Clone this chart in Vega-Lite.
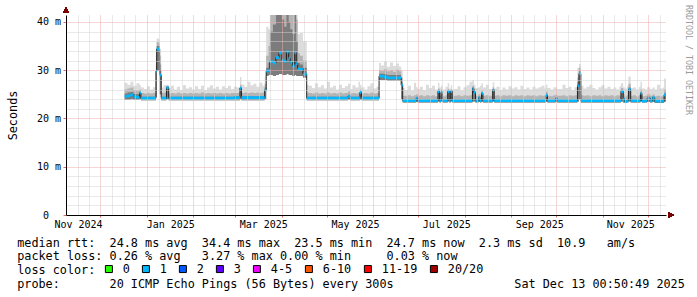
{
"$schema": "https://vega.github.io/schema/vega-lite/v6.json",
"width": 600, "height": 200,
"autosize": {"type": "none"},
"padding": {"left": 66, "top": 15, "right": 31, "bottom": 82},
"background": "white",
"config": {"view": {"stroke": null}},
"title": {"text": "RRDTOOL / TOBI OETIKER", "orient": "right", "anchor": "start", "frame": "group", "font": "DejaVu Sans Mono", "fontSize": 8.3, "fontWeight": "normal", "color": "#9a9a9a", "offset": 0, "dx": -10},
"data": {"values": [
{"d":"2024-12-17T00:00","m":24.6,"lo":23.9,"dk":25.2,"mid":26.0,"hi":27.4},
{"d":"2024-12-19T00:00","m":24.7,"lo":23.9,"dk":25.4,"mid":26.2,"hi":27.0},
{"d":"2024-12-21T00:00","m":24.9,"lo":24.0,"dk":25.5,"mid":26.4,"hi":27.6},
{"d":"2024-12-23T00:00","m":24.5,"lo":23.9,"dk":25.1,"mid":25.9,"hi":26.8},
{"d":"2024-12-25T00:00","m":24.4,"lo":23.9,"dk":25.0,"mid":25.8,"hi":27.3},
{"d":"2024-12-27T00:00","m":25.3,"lo":24.0,"dk":25.5,"mid":26.0,"hi":26.9},
{"d":"2024-12-28T00:00","m":24.2,"lo":23.8,"dk":24.5,"mid":25.3,"hi":26.4},
{"d":"2024-12-30T00:00","m":24.2,"lo":23.8,"dk":24.5,"mid":25.2,"hi":26.1},
{"d":"2025-01-01T00:00","m":24.2,"lo":23.8,"dk":24.5,"mid":25.3,"hi":26.7},
{"d":"2025-01-03T00:00","m":24.2,"lo":23.8,"dk":24.5,"mid":25.2,"hi":26.0},
{"d":"2025-01-05T00:00","m":24.2,"lo":23.8,"dk":24.5,"mid":25.3,"hi":26.5},
{"d":"2025-01-07T00:00","m":29.8,"lo":24.5,"dk":31.0,"mid":33.0,"hi":34.5},
{"d":"2025-01-07T12:00","m":34.4,"lo":30.0,"dk":35.0,"mid":35.8,"hi":36.6},
{"d":"2025-01-09T00:00","m":34.4,"lo":30.0,"dk":35.0,"mid":35.6,"hi":36.4},
{"d":"2025-01-09T12:00","m":29.0,"lo":25.0,"dk":30.0,"mid":31.2,"hi":33.0},
{"d":"2025-01-10T12:00","m":24.2,"lo":23.8,"dk":24.5,"mid":25.3,"hi":26.4},
{"d":"2025-01-12T00:00","m":24.2,"lo":23.8,"dk":24.5,"mid":25.4,"hi":26.9},
{"d":"2025-01-14T00:00","m":26.4,"lo":24.0,"dk":26.6,"mid":26.8,"hi":27.0},
{"d":"2025-01-15T12:00","m":24.2,"lo":23.8,"dk":24.5,"mid":25.2,"hi":26.3},
{"d":"2025-01-17T00:00","m":24.2,"lo":23.8,"dk":24.5,"mid":25.3,"hi":26.8},
{"d":"2025-01-19T00:00","m":24.2,"lo":23.8,"dk":24.5,"mid":25.2,"hi":26.0},
{"d":"2025-01-21T00:00","m":24.2,"lo":23.8,"dk":24.5,"mid":25.4,"hi":26.6},
{"d":"2025-01-23T00:00","m":24.2,"lo":23.8,"dk":24.5,"mid":25.2,"hi":25.9},
{"d":"2025-01-25T00:00","m":24.2,"lo":23.8,"dk":24.5,"mid":25.3,"hi":26.9},
{"d":"2025-01-27T00:00","m":24.2,"lo":23.8,"dk":24.5,"mid":25.2,"hi":26.2},
{"d":"2025-01-29T00:00","m":24.2,"lo":23.8,"dk":24.5,"mid":25.3,"hi":26.5},
{"d":"2025-01-31T00:00","m":24.2,"lo":23.8,"dk":24.5,"mid":25.2,"hi":26.0},
{"d":"2025-02-02T00:00","m":24.2,"lo":23.8,"dk":24.5,"mid":25.3,"hi":26.7},
{"d":"2025-02-04T00:00","m":24.2,"lo":23.8,"dk":24.5,"mid":25.2,"hi":26.1},
{"d":"2025-02-06T00:00","m":24.2,"lo":23.8,"dk":24.5,"mid":25.4,"hi":26.8},
{"d":"2025-02-08T00:00","m":24.2,"lo":23.8,"dk":24.5,"mid":25.2,"hi":25.9},
{"d":"2025-02-10T00:00","m":24.2,"lo":23.8,"dk":24.5,"mid":25.3,"hi":26.4},
{"d":"2025-02-12T00:00","m":24.2,"lo":23.8,"dk":24.5,"mid":25.2,"hi":26.9},
{"d":"2025-02-14T00:00","m":24.2,"lo":23.8,"dk":24.5,"mid":25.3,"hi":26.2},
{"d":"2025-02-16T00:00","m":24.2,"lo":23.8,"dk":24.5,"mid":25.2,"hi":26.6},
{"d":"2025-02-18T00:00","m":24.2,"lo":23.8,"dk":24.5,"mid":25.3,"hi":26.0},
{"d":"2025-02-20T00:00","m":24.2,"lo":23.8,"dk":24.5,"mid":25.2,"hi":26.7},
{"d":"2025-02-22T00:00","m":24.2,"lo":23.8,"dk":24.5,"mid":25.3,"hi":26.3},
{"d":"2025-02-24T00:00","m":24.2,"lo":23.8,"dk":24.5,"mid":25.2,"hi":26.8},
{"d":"2025-02-26T00:00","m":24.2,"lo":23.8,"dk":24.5,"mid":25.3,"hi":26.1},
{"d":"2025-02-28T00:00","m":24.3,"lo":23.8,"dk":24.6,"mid":25.3,"hi":26.6},
{"d":"2025-03-02T00:00","m":24.3,"lo":23.8,"dk":24.6,"mid":25.3,"hi":26.4},
{"d":"2025-03-04T00:00","m":26.3,"lo":24.0,"dk":26.5,"mid":27.0,"hi":28.6},
{"d":"2025-03-05T00:00","m":24.3,"lo":23.8,"dk":24.6,"mid":25.3,"hi":27.0},
{"d":"2025-03-07T00:00","m":24.3,"lo":23.8,"dk":24.6,"mid":25.4,"hi":26.6},
{"d":"2025-03-09T00:00","m":24.3,"lo":23.8,"dk":24.6,"mid":25.3,"hi":27.6},
{"d":"2025-03-11T00:00","m":24.3,"lo":23.8,"dk":24.6,"mid":25.4,"hi":26.9},
{"d":"2025-03-13T00:00","m":24.3,"lo":23.8,"dk":24.6,"mid":25.3,"hi":27.2},
{"d":"2025-03-15T00:00","m":24.3,"lo":23.8,"dk":24.6,"mid":25.4,"hi":26.6},
{"d":"2025-03-17T00:00","m":24.3,"lo":23.8,"dk":24.6,"mid":25.3,"hi":27.4},
{"d":"2025-03-19T00:00","m":24.3,"lo":23.8,"dk":24.6,"mid":25.4,"hi":26.8},
{"d":"2025-03-20T12:00","m":25.9,"lo":24.0,"dk":26.4,"mid":27.2,"hi":28.7},
{"d":"2025-03-21T12:00","m":29.8,"lo":28.8,"dk":30.5,"mid":33.0,"hi":39.0},
{"d":"2025-03-23T00:00","m":30.0,"lo":29.0,"dk":31.5,"mid":35.0,"hi":38.5},
{"d":"2025-03-24T00:00","m":31.8,"lo":29.0,"dk":38.0,"mid":41.45,"hi":41.45},
{"d":"2025-03-26T00:00","m":31.5,"lo":28.8,"dk":39.5,"mid":41.45,"hi":41.45},
{"d":"2025-03-28T00:00","m":32.6,"lo":29.0,"dk":41.45,"mid":41.45,"hi":41.45},
{"d":"2025-03-30T00:00","m":33.6,"lo":29.2,"dk":41.45,"mid":41.45,"hi":41.45},
{"d":"2025-04-01T00:00","m":32.1,"lo":29.0,"dk":40.5,"mid":41.45,"hi":41.45},
{"d":"2025-04-02T12:00","m":31.9,"lo":29.0,"dk":39.0,"mid":41.45,"hi":41.45},
{"d":"2025-04-04T00:00","m":33.8,"lo":29.2,"dk":41.45,"mid":41.45,"hi":41.45},
{"d":"2025-04-05T12:00","m":32.5,"lo":29.0,"dk":40.0,"mid":41.45,"hi":41.45},
{"d":"2025-04-06T12:00","m":31.7,"lo":29.0,"dk":38.5,"mid":41.45,"hi":41.45},
{"d":"2025-04-08T00:00","m":30.9,"lo":28.8,"dk":37.5,"mid":41.45,"hi":41.45},
{"d":"2025-04-09T12:00","m":33.6,"lo":29.0,"dk":41.45,"mid":41.45,"hi":41.45},
{"d":"2025-04-10T12:00","m":31.4,"lo":28.8,"dk":36.0,"mid":40.5,"hi":41.45},
{"d":"2025-04-11T12:00","m":30.3,"lo":28.8,"dk":31.5,"mid":33.5,"hi":37.5},
{"d":"2025-04-13T00:00","m":30.2,"lo":28.8,"dk":31.2,"mid":33.0,"hi":37.7},
{"d":"2025-04-15T00:00","m":29.2,"lo":28.5,"dk":30.5,"mid":32.0,"hi":36.0},
{"d":"2025-04-17T12:00","m":24.2,"lo":23.8,"dk":24.5,"mid":25.4,"hi":27.0},
{"d":"2025-04-19T00:00","m":24.2,"lo":23.8,"dk":24.5,"mid":25.3,"hi":26.8},
{"d":"2025-04-21T00:00","m":24.2,"lo":23.8,"dk":24.5,"mid":25.2,"hi":26.3},
{"d":"2025-04-23T00:00","m":24.2,"lo":23.8,"dk":24.5,"mid":25.4,"hi":27.3},
{"d":"2025-04-25T00:00","m":24.2,"lo":23.8,"dk":24.5,"mid":25.2,"hi":26.5},
{"d":"2025-04-27T00:00","m":24.2,"lo":23.8,"dk":24.5,"mid":25.3,"hi":26.9},
{"d":"2025-04-29T00:00","m":24.2,"lo":23.8,"dk":24.5,"mid":25.2,"hi":26.2},
{"d":"2025-05-01T00:00","m":24.2,"lo":23.8,"dk":24.5,"mid":25.4,"hi":27.6},
{"d":"2025-05-03T00:00","m":24.2,"lo":23.8,"dk":24.5,"mid":25.2,"hi":26.4},
{"d":"2025-05-05T00:00","m":24.2,"lo":23.8,"dk":24.5,"mid":25.3,"hi":26.8},
{"d":"2025-05-07T00:00","m":24.2,"lo":23.8,"dk":24.5,"mid":25.2,"hi":26.0},
{"d":"2025-05-09T00:00","m":24.2,"lo":23.8,"dk":24.5,"mid":25.4,"hi":27.0},
{"d":"2025-05-11T00:00","m":24.2,"lo":23.8,"dk":24.5,"mid":25.2,"hi":26.3},
{"d":"2025-05-13T00:00","m":24.2,"lo":23.8,"dk":24.5,"mid":25.3,"hi":26.7},
{"d":"2025-05-15T00:00","m":24.6,"lo":23.9,"dk":24.9,"mid":25.6,"hi":27.2},
{"d":"2025-05-16T12:00","m":24.2,"lo":23.8,"dk":24.5,"mid":25.2,"hi":26.1},
{"d":"2025-05-18T00:00","m":24.2,"lo":23.8,"dk":24.5,"mid":25.3,"hi":26.9},
{"d":"2025-05-20T00:00","m":24.2,"lo":23.8,"dk":24.5,"mid":25.2,"hi":26.4},
{"d":"2025-05-22T00:00","m":24.2,"lo":23.8,"dk":24.5,"mid":25.4,"hi":27.6},
{"d":"2025-05-23T00:00","m":25.4,"lo":23.9,"dk":25.6,"mid":26.0,"hi":27.0},
{"d":"2025-05-24T00:00","m":24.2,"lo":23.8,"dk":24.5,"mid":25.2,"hi":26.5},
{"d":"2025-05-26T00:00","m":24.2,"lo":23.8,"dk":24.5,"mid":25.3,"hi":26.0},
{"d":"2025-05-28T00:00","m":24.2,"lo":23.8,"dk":24.5,"mid":25.2,"hi":26.7},
{"d":"2025-05-30T00:00","m":24.2,"lo":23.8,"dk":24.5,"mid":25.4,"hi":27.3},
{"d":"2025-06-01T00:00","m":24.2,"lo":23.8,"dk":24.5,"mid":25.2,"hi":26.2},
{"d":"2025-06-03T00:00","m":24.2,"lo":23.8,"dk":24.5,"mid":25.3,"hi":26.6},
{"d":"2025-06-04T18:00","m":28.8,"lo":28.0,"dk":29.3,"mid":30.0,"hi":31.5},
{"d":"2025-06-06T00:00","m":28.8,"lo":28.0,"dk":29.3,"mid":29.9,"hi":31.0},
{"d":"2025-06-08T00:00","m":28.6,"lo":28.0,"dk":29.2,"mid":30.2,"hi":31.8},
{"d":"2025-06-10T00:00","m":28.4,"lo":27.9,"dk":29.0,"mid":29.8,"hi":30.7},
{"d":"2025-06-12T00:00","m":28.4,"lo":27.9,"dk":29.0,"mid":30.0,"hi":31.6},
{"d":"2025-06-14T00:00","m":28.4,"lo":27.9,"dk":29.0,"mid":29.7,"hi":30.9},
{"d":"2025-06-16T00:00","m":28.4,"lo":27.9,"dk":29.0,"mid":30.1,"hi":31.4},
{"d":"2025-06-18T00:00","m":28.4,"lo":27.9,"dk":29.0,"mid":29.8,"hi":30.8},
{"d":"2025-06-19T12:00","m":26.9,"lo":24.0,"dk":27.5,"mid":28.5,"hi":30.0},
{"d":"2025-06-20T12:00","m":23.7,"lo":23.3,"dk":24.0,"mid":24.7,"hi":26.3},
{"d":"2025-06-22T00:00","m":23.7,"lo":23.3,"dk":24.0,"mid":24.7,"hi":25.9},
{"d":"2025-06-24T00:00","m":23.7,"lo":23.3,"dk":24.0,"mid":24.8,"hi":26.8},
{"d":"2025-06-26T00:00","m":23.7,"lo":23.3,"dk":24.0,"mid":24.6,"hi":25.8},
{"d":"2025-06-28T00:00","m":23.7,"lo":23.3,"dk":24.0,"mid":24.8,"hi":27.4},
{"d":"2025-06-29T12:00","m":24.2,"lo":23.4,"dk":24.4,"mid":25.0,"hi":26.5},
{"d":"2025-06-30T12:00","m":23.7,"lo":23.3,"dk":24.0,"mid":24.7,"hi":26.1},
{"d":"2025-07-02T00:00","m":23.7,"lo":23.3,"dk":24.0,"mid":24.8,"hi":26.6},
{"d":"2025-07-04T00:00","m":23.7,"lo":23.3,"dk":24.0,"mid":24.6,"hi":25.9},
{"d":"2025-07-06T00:00","m":23.7,"lo":23.3,"dk":24.0,"mid":24.8,"hi":27.0},
{"d":"2025-07-08T00:00","m":23.7,"lo":23.3,"dk":24.0,"mid":24.7,"hi":26.3},
{"d":"2025-07-10T00:00","m":23.7,"lo":23.3,"dk":24.0,"mid":24.8,"hi":26.8},
{"d":"2025-07-12T00:00","m":23.7,"lo":23.3,"dk":24.0,"mid":24.6,"hi":26.0},
{"d":"2025-07-14T00:00","m":25.6,"lo":23.5,"dk":25.9,"mid":26.2,"hi":27.4},
{"d":"2025-07-15T00:00","m":23.7,"lo":23.3,"dk":24.0,"mid":24.7,"hi":26.4},
{"d":"2025-07-16T00:00","m":25.4,"lo":23.5,"dk":25.6,"mid":26.0,"hi":26.8},
{"d":"2025-07-17T00:00","m":23.7,"lo":23.3,"dk":24.0,"mid":24.6,"hi":26.0},
{"d":"2025-07-19T00:00","m":23.7,"lo":23.3,"dk":24.0,"mid":24.8,"hi":26.6},
{"d":"2025-07-20T12:00","m":25.6,"lo":23.5,"dk":25.8,"mid":26.1,"hi":27.3},
{"d":"2025-07-21T12:00","m":23.7,"lo":23.3,"dk":24.0,"mid":24.7,"hi":26.2},
{"d":"2025-07-22T12:00","m":25.6,"lo":23.5,"dk":25.8,"mid":26.0,"hi":26.9},
{"d":"2025-07-23T12:00","m":23.7,"lo":23.3,"dk":24.0,"mid":24.7,"hi":26.0},
{"d":"2025-07-25T00:00","m":23.7,"lo":23.3,"dk":24.0,"mid":24.7,"hi":26.1},
{"d":"2025-07-27T00:00","m":23.7,"lo":23.3,"dk":24.0,"mid":24.8,"hi":26.7},
{"d":"2025-07-29T00:00","m":23.7,"lo":23.3,"dk":24.0,"mid":24.6,"hi":25.8},
{"d":"2025-07-31T00:00","m":23.7,"lo":23.3,"dk":24.0,"mid":24.8,"hi":26.5},
{"d":"2025-08-02T00:00","m":23.7,"lo":23.3,"dk":24.0,"mid":24.7,"hi":26.9},
{"d":"2025-08-04T00:00","m":23.7,"lo":23.3,"dk":24.0,"mid":24.8,"hi":27.6},
{"d":"2025-08-06T00:00","m":26.2,"lo":23.5,"dk":26.4,"mid":26.8,"hi":28.0},
{"d":"2025-08-07T00:00","m":25.4,"lo":23.5,"dk":25.6,"mid":26.0,"hi":27.0},
{"d":"2025-08-08T00:00","m":23.7,"lo":23.3,"dk":24.0,"mid":24.7,"hi":26.3},
{"d":"2025-08-10T00:00","m":24.3,"lo":23.4,"dk":24.5,"mid":25.0,"hi":26.5},
{"d":"2025-08-11T00:00","m":23.7,"lo":23.3,"dk":24.0,"mid":24.7,"hi":26.8},
{"d":"2025-08-12T00:00","m":25.2,"lo":23.4,"dk":25.4,"mid":25.8,"hi":27.3},
{"d":"2025-08-13T00:00","m":23.7,"lo":23.3,"dk":24.0,"mid":24.7,"hi":26.4},
{"d":"2025-08-15T00:00","m":23.7,"lo":23.3,"dk":24.0,"mid":24.8,"hi":27.0},
{"d":"2025-08-17T00:00","m":23.7,"lo":23.3,"dk":24.0,"mid":24.7,"hi":26.1},
{"d":"2025-08-19T12:00","m":25.9,"lo":23.5,"dk":26.1,"mid":26.5,"hi":27.5},
{"d":"2025-08-20T12:00","m":23.7,"lo":23.3,"dk":24.0,"mid":24.7,"hi":26.2},
{"d":"2025-08-22T00:00","m":23.7,"lo":23.3,"dk":24.0,"mid":24.8,"hi":26.6},
{"d":"2025-08-24T00:00","m":23.7,"lo":23.3,"dk":24.0,"mid":24.6,"hi":25.9},
{"d":"2025-08-26T00:00","m":23.7,"lo":23.3,"dk":24.0,"mid":24.8,"hi":26.4},
{"d":"2025-08-28T00:00","m":23.7,"lo":23.3,"dk":24.0,"mid":24.7,"hi":26.0},
{"d":"2025-08-30T00:00","m":23.7,"lo":23.3,"dk":24.0,"mid":24.8,"hi":26.7},
{"d":"2025-09-01T00:00","m":23.7,"lo":23.3,"dk":24.0,"mid":24.6,"hi":26.2},
{"d":"2025-09-03T00:00","m":23.7,"lo":23.3,"dk":24.0,"mid":24.8,"hi":26.5},
{"d":"2025-09-05T00:00","m":23.7,"lo":23.3,"dk":24.0,"mid":24.7,"hi":26.0},
{"d":"2025-09-07T00:00","m":23.7,"lo":23.3,"dk":24.0,"mid":24.8,"hi":26.8},
{"d":"2025-09-09T00:00","m":23.7,"lo":23.3,"dk":24.0,"mid":24.6,"hi":26.1},
{"d":"2025-09-11T00:00","m":23.7,"lo":23.3,"dk":24.0,"mid":24.8,"hi":26.4},
{"d":"2025-09-13T00:00","m":23.7,"lo":23.3,"dk":24.0,"mid":24.7,"hi":26.0},
{"d":"2025-09-15T00:00","m":23.7,"lo":23.3,"dk":24.0,"mid":24.8,"hi":26.6},
{"d":"2025-09-17T00:00","m":23.7,"lo":23.3,"dk":24.0,"mid":24.6,"hi":26.2},
{"d":"2025-09-19T00:00","m":23.7,"lo":23.3,"dk":24.0,"mid":24.8,"hi":26.5},
{"d":"2025-09-21T00:00","m":23.7,"lo":23.3,"dk":24.0,"mid":24.7,"hi":26.8},
{"d":"2025-09-23T00:00","m":23.7,"lo":23.3,"dk":24.0,"mid":24.8,"hi":26.2},
{"d":"2025-09-24T00:00","m":24.8,"lo":23.4,"dk":25.2,"mid":25.6,"hi":27.0},
{"d":"2025-09-25T00:00","m":23.7,"lo":23.3,"dk":24.0,"mid":24.7,"hi":26.3},
{"d":"2025-09-27T00:00","m":23.7,"lo":23.3,"dk":24.0,"mid":24.6,"hi":26.0},
{"d":"2025-09-29T00:00","m":23.7,"lo":23.3,"dk":24.0,"mid":24.8,"hi":26.5},
{"d":"2025-09-30T12:00","m":24.1,"lo":23.4,"dk":24.3,"mid":24.9,"hi":26.4},
{"d":"2025-10-01T12:00","m":23.7,"lo":23.3,"dk":24.0,"mid":24.7,"hi":26.1},
{"d":"2025-10-03T00:00","m":23.7,"lo":23.3,"dk":24.0,"mid":24.7,"hi":26.1},
{"d":"2025-10-05T00:00","m":23.7,"lo":23.3,"dk":24.0,"mid":24.8,"hi":27.0},
{"d":"2025-10-07T00:00","m":23.7,"lo":23.3,"dk":24.0,"mid":24.6,"hi":26.3},
{"d":"2025-10-09T00:00","m":23.7,"lo":23.3,"dk":24.0,"mid":24.8,"hi":26.6},
{"d":"2025-10-11T00:00","m":23.7,"lo":23.3,"dk":24.0,"mid":24.7,"hi":25.9},
{"d":"2025-10-13T00:00","m":23.7,"lo":23.3,"dk":24.0,"mid":24.8,"hi":26.5},
{"d":"2025-10-15T00:00","m":26.8,"lo":23.5,"dk":27.5,"mid":28.5,"hi":30.5},
{"d":"2025-10-16T00:00","m":29.3,"lo":24.0,"dk":29.8,"mid":30.5,"hi":31.3},
{"d":"2025-10-17T06:00","m":23.7,"lo":23.3,"dk":24.0,"mid":24.8,"hi":26.8},
{"d":"2025-10-19T00:00","m":23.7,"lo":23.3,"dk":24.0,"mid":24.7,"hi":26.2},
{"d":"2025-10-21T00:00","m":23.7,"lo":23.3,"dk":24.0,"mid":24.8,"hi":26.6},
{"d":"2025-10-23T00:00","m":23.7,"lo":23.3,"dk":24.0,"mid":24.6,"hi":27.0},
{"d":"2025-10-25T00:00","m":23.7,"lo":23.3,"dk":24.0,"mid":24.8,"hi":26.3},
{"d":"2025-10-27T00:00","m":23.7,"lo":23.3,"dk":24.0,"mid":24.7,"hi":26.0},
{"d":"2025-10-29T00:00","m":23.7,"lo":23.3,"dk":24.0,"mid":24.8,"hi":26.5},
{"d":"2025-10-31T00:00","m":23.7,"lo":23.3,"dk":24.0,"mid":24.6,"hi":26.9},
{"d":"2025-11-02T00:00","m":23.7,"lo":23.3,"dk":24.0,"mid":24.8,"hi":26.2},
{"d":"2025-11-04T00:00","m":23.7,"lo":23.3,"dk":24.0,"mid":24.7,"hi":26.6},
{"d":"2025-11-06T00:00","m":23.7,"lo":23.3,"dk":24.0,"mid":24.8,"hi":26.1},
{"d":"2025-11-08T00:00","m":23.7,"lo":23.3,"dk":24.0,"mid":24.6,"hi":26.4},
{"d":"2025-11-10T00:00","m":23.7,"lo":23.3,"dk":24.0,"mid":24.8,"hi":26.0},
{"d":"2025-11-12T00:00","m":23.7,"lo":23.3,"dk":24.0,"mid":24.7,"hi":26.7},
{"d":"2025-11-13T00:00","m":25.6,"lo":23.5,"dk":25.8,"mid":26.3,"hi":27.3},
{"d":"2025-11-14T12:00","m":24.0,"lo":23.3,"dk":24.3,"mid":25.0,"hi":26.5},
{"d":"2025-11-15T12:00","m":23.5,"lo":23.2,"dk":23.8,"mid":24.6,"hi":26.2},
{"d":"2025-11-17T00:00","m":23.7,"lo":23.3,"dk":24.0,"mid":24.8,"hi":26.7},
{"d":"2025-11-18T00:00","m":26.0,"lo":23.5,"dk":26.4,"mid":27.2,"hi":28.7},
{"d":"2025-11-19T12:00","m":23.7,"lo":23.3,"dk":24.0,"mid":24.7,"hi":26.3},
{"d":"2025-11-21T00:00","m":23.7,"lo":23.3,"dk":24.0,"mid":24.8,"hi":26.4},
{"d":"2025-11-23T00:00","m":23.7,"lo":23.3,"dk":24.0,"mid":24.6,"hi":26.0},
{"d":"2025-11-25T00:00","m":23.7,"lo":23.3,"dk":24.0,"mid":24.8,"hi":26.6},
{"d":"2025-11-26T00:00","m":25.2,"lo":23.5,"dk":25.4,"mid":26.0,"hi":27.6},
{"d":"2025-11-27T00:00","m":23.6,"lo":23.3,"dk":23.9,"mid":24.6,"hi":26.2},
{"d":"2025-11-29T00:00","m":23.7,"lo":23.3,"dk":24.0,"mid":24.7,"hi":26.0},
{"d":"2025-11-30T12:00","m":24.2,"lo":23.4,"dk":24.5,"mid":25.0,"hi":26.5},
{"d":"2025-12-02T12:00","m":23.7,"lo":23.3,"dk":24.0,"mid":24.7,"hi":26.1},
{"d":"2025-12-04T00:00","m":24.3,"lo":23.4,"dk":24.5,"mid":25.0,"hi":26.4},
{"d":"2025-12-05T12:00","m":23.6,"lo":23.2,"dk":23.9,"mid":24.6,"hi":26.0},
{"d":"2025-12-07T00:00","m":23.6,"lo":23.2,"dk":23.9,"mid":24.7,"hi":27.0},
{"d":"2025-12-09T00:00","m":23.6,"lo":23.2,"dk":23.9,"mid":24.6,"hi":26.2},
{"d":"2025-12-11T00:00","m":23.5,"lo":23.2,"dk":23.8,"mid":24.5,"hi":26.4},
{"d":"2025-12-11T18:00","m":24.9,"lo":23.5,"dk":25.2,"mid":26.0,"hi":28.3},
{"d":"2025-12-13T00:50","m":24.9,"lo":23.5,"dk":25.2,"mid":26.0,"hi":28.3}
]},
"layer": [
{"mark": {"type": "area", "interpolate": "step-after", "color": "#dcdcdc", "opacity": 1},
 "encoding": {
  "x": {"field": "d", "type": "temporal",
   "scale": {"domain": [{"year": 2024, "month": 11, "date": 8, "hours": 0, "minutes": 50}, {"year": 2025, "month": 12, "date": 13, "hours": 0, "minutes": 50}]},
   "axis": {
    "tickCount": 200,
    "values": [
     {"year":2024,"month":11,"date":16,"minutes":30},
     {"year":2024,"month":11,"date":16},{"year":2024,"month":11,"date":23,"hours":12},
     {"year":2024,"month":12,"date":1},{"year":2024,"month":12,"date":8,"hours":18},{"year":2024,"month":12,"date":16,"hours":12},{"year":2024,"month":12,"date":24,"hours":6},
     {"year":2025,"month":1,"date":1},{"year":2025,"month":1,"date":8,"hours":18},{"year":2025,"month":1,"date":16,"hours":12},{"year":2025,"month":1,"date":24,"hours":6},
     {"year":2025,"month":1,"date":16,"hours":12,"minutes":30},
     {"year":2025,"month":2,"date":1},{"year":2025,"month":2,"date":8},{"year":2025,"month":2,"date":15},{"year":2025,"month":2,"date":22},
     {"year":2025,"month":3,"date":1},{"year":2025,"month":3,"date":8,"hours":18},{"year":2025,"month":3,"date":16,"hours":12},{"year":2025,"month":3,"date":24,"hours":6},
     {"year":2025,"month":3,"date":19,"hours":12,"minutes":30},
     {"year":2025,"month":4,"date":1},{"year":2025,"month":4,"date":8,"hours":12},{"year":2025,"month":4,"date":16},{"year":2025,"month":4,"date":23,"hours":12},
     {"year":2025,"month":5,"date":1},{"year":2025,"month":5,"date":8,"hours":18},{"year":2025,"month":5,"date":16,"hours":12},{"year":2025,"month":5,"date":24,"hours":6},
     {"year":2025,"month":5,"date":19,"hours":16,"minutes":30},
     {"year":2025,"month":6,"date":1},{"year":2025,"month":6,"date":8,"hours":12},{"year":2025,"month":6,"date":16},{"year":2025,"month":6,"date":23,"hours":12},
     {"year":2025,"month":7,"date":1},{"year":2025,"month":7,"date":8,"hours":18},{"year":2025,"month":7,"date":16,"hours":12},{"year":2025,"month":7,"date":24,"hours":6},
     {"year":2025,"month":7,"date":19,"hours":12,"minutes":30},
     {"year":2025,"month":8,"date":1},{"year":2025,"month":8,"date":8,"hours":18},{"year":2025,"month":8,"date":16,"hours":12},{"year":2025,"month":8,"date":24,"hours":6},
     {"year":2025,"month":9,"date":1},{"year":2025,"month":9,"date":8,"hours":12},{"year":2025,"month":9,"date":16},{"year":2025,"month":9,"date":23,"hours":12},
     {"year":2025,"month":9,"date":19,"hours":12,"minutes":30},
     {"year":2025,"month":10,"date":1},{"year":2025,"month":10,"date":8,"hours":18},{"year":2025,"month":10,"date":16,"hours":12},{"year":2025,"month":10,"date":24,"hours":6},
     {"year":2025,"month":11,"date":1},{"year":2025,"month":11,"date":8,"hours":12},{"year":2025,"month":11,"date":16},{"year":2025,"month":11,"date":23,"hours":12},
     {"year":2025,"month":11,"date":19,"hours":4,"minutes":30},
     {"year":2025,"month":12,"date":1},{"year":2025,"month":12,"date":8,"hours":18}
    ],
    "format": "%b %Y",
    "labelExpr": "minutes(datum.value) === 30 ? datum.label : ''",
    "labelFont": "DejaVu Sans Mono", "labelFontSize": 10, "labelColor": "#000000", "labelPadding": 2,
    "labelOverlap": false, "labelFlush": false, "labelBound": false,
    "grid": true, "gridDash": [1, 1],
    "gridColor": {"condition": {"test": "date(datum.value) === 1 && hours(datum.value) === 0", "value": "#eeaaaa"}, "value": "#d2d2d2"},
    "gridOpacity": {"condition": {"test": "minutes(datum.value) === 30", "value": 0}, "value": 1},
    "ticks": true, "tickSize": 2, "tickColor": "#e07070",
    "tickOpacity": {"condition": {"test": "date(datum.value) === 1 && hours(datum.value) === 0", "value": 1}, "value": 0},
    "domainColor": "#000000", "domainWidth": 1, "zindex": 1,
    "title": ["median rtt:\u00a0\u00a024.8 ms avg\u00a0\u00a034.4 ms max\u00a0\u00a023.5 ms min\u00a0\u00a024.7 ms now\u00a0\u00a02.3 ms sd\u00a0\u00a010.9\u00a0\u00a0\u00a0am/s",
              "packet loss: 0.26 % avg\u00a0\u00a0\u00a03.27 % max 0.00 % min\u00a0\u00a0\u00a0\u00a0\u00a00.03 % now",
              "loss color:",
              "probe:\u00a0\u00a0\u00a0\u00a0\u00a0\u00a0\u00a020 ICMP Echo Pings (56 Bytes) every 300s\u00a0\u00a0\u00a0\u00a0\u00a0\u00a0\u00a0\u00a0\u00a0\u00a0\u00a0\u00a0\u00a0\u00a0\u00a0\u00a0\u00a0Sat Dec 13 00:50:49 2025"],
    "titleX": -49.3, "titleY": 31, "titleAlign": "left", "titleBaseline": "alphabetic", "titleAngle": 0,
    "titleFont": "DejaVu Sans Mono", "titleFontSize": 11.8, "titleFontWeight": "normal", "titleColor": "#000000", "titleLineHeight": 13.7
   }},
  "y": {"field": "lo", "type": "quantitative",
   "scale": {"domain": [0, 41.45], "nice": false, "zero": true},
   "axis": {
    "tickCount": 200,
    "values": [0,2,4,6,8,10,12,14,16,18,20,22,24,26,28,30,32,34,36,38,40],
    "labelExpr": "datum.value % 10 === 0 ? (datum.value === 0 ? '0\u00a0\u00a0\u200b' : datum.value + ' m') : ''",
    "labelFont": "DejaVu Sans Mono", "labelFontSize": 10, "labelColor": "#000000", "labelPadding": 2.5, "labelOverlap": false,
    "grid": true, "gridDash": [1, 1],
    "gridColor": {"condition": {"test": "datum.value % 10 === 0", "value": "#eeaaaa"}, "value": "#d2d2d2"},
    "tickSize": 3, "tickColor": "#e07070",
    "tickOpacity": {"condition": {"test": "datum.value % 10 === 0", "value": 1}, "value": 0},
    "domainColor": "#000000", "zindex": 1,
    "title": "Seconds", "titleFont": "DejaVu Sans Mono", "titleFontSize": 11.8, "titleFontWeight": "normal", "titleColor": "#000000", "titlePadding": 18
   }},
  "y2": {"field": "hi"}
 }},
{"mark": {"type": "area", "interpolate": "step-after", "color": "#b4b4b4", "opacity": 1},
 "encoding": {"x": {"field": "d", "type": "temporal"}, "y": {"field": "lo", "type": "quantitative"}, "y2": {"field": "mid"}}},
{"mark": {"type": "area", "interpolate": "step-after", "color": "#7c7c7c", "opacity": 1},
 "encoding": {"x": {"field": "d", "type": "temporal"}, "y": {"field": "lo", "type": "quantitative"}, "y2": {"field": "dk"}}},
{"mark": {"type": "line", "interpolate": "step-after", "color": "#202020", "strokeWidth": 1},
 "encoding": {"x": {"field": "d", "type": "temporal"}, "y": {"field": "m", "type": "quantitative"}}},
{"mark": {"type": "area", "interpolate": "step-after", "opacity": 1, "yOffset": -1.4, "y2Offset": 1.4},
 "encoding": {"x": {"field": "d", "type": "temporal"}, "y": {"field": "m", "type": "quantitative"}, "y2": {"field": "m"},
  "color": {"datum": "1", "type": "nominal",
   "scale": {"domain": ["0","1","2","3","4-5","6-10","11-19","20/20"], "range": ["#26ff00","#00b8ff","#0059ff","#5e00ff","#ee00ff","#ff5500","#ff0000","#a10000"]},
   "legend": {"orient": "none", "legendX": 37, "legendY": 248, "direction": "horizontal", "title": null,
    "symbolType": "square", "symbolSize": 49, "symbolStrokeColor": "#000000", "symbolStrokeWidth": 1, "symbolOpacity": 1,
    "labelFont": "DejaVu Sans Mono", "labelFontSize": 11.8, "labelColor": "#000000", "labelOffset": 8, "columnPadding": 10, "padding": 0}}}},
{"mark": {"type": "point", "shape": "triangle-right", "filled": true, "size": 28, "color": "#7a0000", "opacity": 1, "xOffset": 5},
 "encoding": {"x": {"datum": {"year": 2025, "month": 12, "date": 13, "hours": 0, "minutes": 50}, "type": "temporal"}, "y": {"datum": 0, "type": "quantitative"}}},
{"mark": {"type": "point", "shape": "triangle-up", "filled": true, "size": 28, "color": "#7a0000", "opacity": 1, "yOffset": -5},
 "encoding": {"x": {"datum": {"year": 2024, "month": 11, "date": 8, "hours": 0, "minutes": 50}, "type": "temporal"}, "y": {"datum": 41.45, "type": "quantitative"}}}
]
}
